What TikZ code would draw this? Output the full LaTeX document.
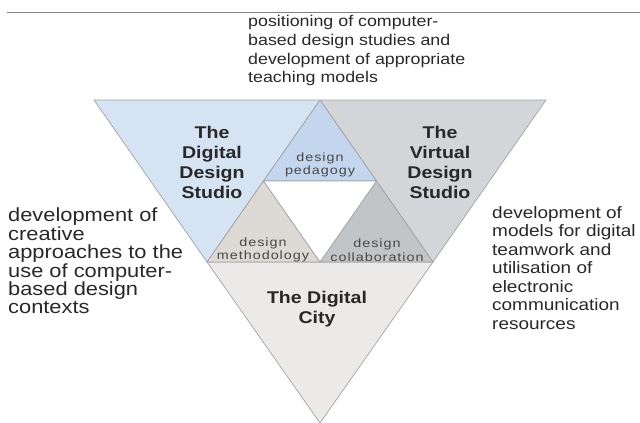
\documentclass[tikz,border=0pt]{standalone}
\usepackage{fontspec}
\setmainfont{Liberation Sans}
\newfontfamily\widesans[FakeStretch=1.15]{Liberation Sans}
\newfontfamily\labelsans[FakeStretch=1.2,LetterSpace=8]{Liberation Sans}
\usetikzlibrary{positioning}

\definecolor{studioblue}{RGB}{214,227,243}
\definecolor{pedblue}{RGB}{196,214,238}
\definecolor{virtualgray}{RGB}{211,213,216}
\definecolor{collgray}{RGB}{194,197,200}
\definecolor{citygray}{RGB}{236,234,232}
\definecolor{methgray}{RGB}{221,217,213}
\definecolor{edgegray}{RGB}{160,163,166}
\definecolor{inkgray}{RGB}{40,40,40}

\begin{document}
\begin{tikzpicture}[x=1pt,y=-1pt,
  part/.style={draw=edgegray,line width=0.7pt,line join=round},
  note/.style={anchor=north west,align=left,inner sep=0pt,text=inkgray},
  title/.style={align=center,inner sep=0pt,text=inkgray,
    font=\widesans\bfseries\fontsize{17}{20}\selectfont},
  small/.style={align=center,inner sep=0pt,text=inkgray!85,
    font=\labelsans\fontsize{12}{13.5}\selectfont}]
\useasboundingbox (0,0) rectangle (640,423);

% rule across the top
\draw[edgegray!80!black,line width=1pt] (7,12) -- (640,12);

% corners of the big triangle and its halves
\coordinate (tl) at (94,100);
\coordinate (tm) at (320,100);
\coordinate (tr) at (546,100);
\coordinate (ml) at (207,262);
\coordinate (mr) at (433,262);
\coordinate (bt) at (320,423);
\coordinate (pl) at (263.5,181);
\coordinate (pr) at (376.5,181);
\coordinate (pb) at (320,262);

% outer triangles
\filldraw[part,fill=studioblue] (tl) -- (tm) -- (ml) -- cycle;
\filldraw[part,fill=virtualgray] (tm) -- (tr) -- (mr) -- cycle;
\filldraw[part,fill=citygray] (ml) -- (mr) -- (bt) -- cycle;
% inner triangles
\filldraw[part,fill=pedblue] (tm) -- (pr) -- (pl) -- cycle;
\filldraw[part,fill=methgray] (pl) -- (pb) -- (ml) -- cycle;
\filldraw[part,fill=collgray] (pr) -- (mr) -- (pb) -- cycle;
\filldraw[part,fill=white] (pl) -- (pr) -- (pb) -- cycle;

\node[title] (studio) at (212,162) {The\\Digital\\Design\\Studio};
\node[title] (virtual) at (440,162) {The\\Virtual\\Design\\Studio};
\node[title] (city) at (317,309) {The Digital\\City};

\node[small] (pedagogy) at (320,165) {design\\pedagogy};
\node[small] (method) at (263,250) {design\\methodology};
\node[small] (collab) at (377,250) {design\\collaboration};

\node[note,font=\widesans\fontsize{15.5}{18.6}\selectfont] (positioning) at (248,15.5)
  {positioning of computer-\\based design studies and\\development of appropriate\\teaching models};
\node[note,font=\widesans\fontsize{19}{18.4}\selectfont] (creative) at (8,208)
  {development of\\creative\\approaches to the\\use of computer-\\based design\\contexts};
\node[note,font=\widesans\fontsize{16.5}{18.5}\selectfont] (teamwork) at (492,206)
  {development of\\models for digital\\teamwork and\\utilisation of\\electronic\\communication\\resources};
\end{tikzpicture}
\end{document}
